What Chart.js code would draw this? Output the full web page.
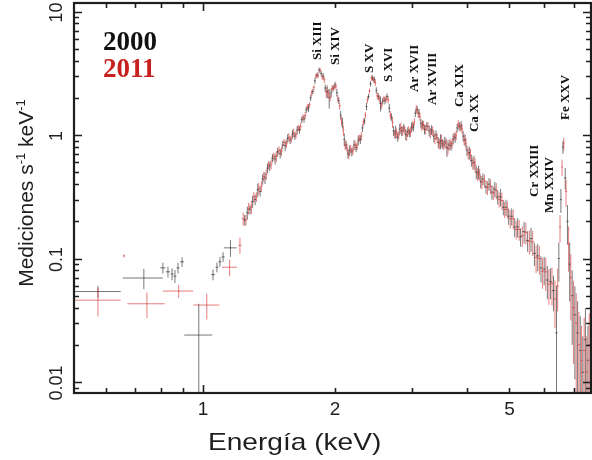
<!DOCTYPE html>
<html>
<head>
<meta charset="utf-8">
<script src="https://cdn.jsdelivr.net/npm/chart.js"></script>
<style>
html,body{margin:0;padding:0;background:#fff;}
#wrap{width:592px;height:460px;position:relative;}
</style>
</head>
<body>
<div id="wrap"><canvas id="c" width="592" height="460"></canvas></div>
<script>
// ---------------- DATA ----------------
// 2000 observation (black): narrow bins
const energy2000 = [
  0.810,0.832,0.850,0.863,0.877,0.896,1.054,1.076,1.093,1.111,
  1.245,1.262,1.280,1.298,1.315,1.333,1.350,1.368,1.385,1.403,
  1.420,1.440,1.460,1.480,1.500,1.520,1.540,1.560,1.580,1.600,
  1.620,1.640,1.660,1.680,1.700,1.720,1.740,1.760,1.780,1.800,
  1.820,1.840,1.860,1.880,1.900,1.920,1.940,1.960,1.980,2.000,
  2.020,2.040,2.060,2.080,2.100,2.120,2.140,2.160,2.185,2.210,
  2.235,2.260,2.285,2.310,2.335,2.360,2.385,2.410,2.435,2.460,
  2.485,2.510,2.540,2.570,2.600,2.630,2.660,2.690,2.720,2.750,
  2.780,2.810,2.840,2.870,2.900,2.930,2.960,2.990,3.020,3.050,
  3.080,3.110,3.140,3.170,3.200,3.240,3.280,3.320,3.360,3.400,
  3.440,3.480,3.520,3.560,3.600,3.640,3.680,3.720,3.760,3.800,
  3.840,3.880,3.920,3.960,4.000,4.050,4.100,4.150,4.200,4.250,
  4.300,4.350,4.420,4.490,4.560,4.630,4.700,4.770,4.840,4.910,
  4.980,5.060,5.140,5.220,5.300,5.400,5.500,5.600,5.700,5.800,
  5.900,6.000,6.100,6.200,6.300,6.400,6.480,6.550,6.620,6.700,
  6.780,6.860,6.950,7.050,7.150,7.250,7.350,7.450,7.550
];
const counts2000 = [
  0.084,0.078,0.075,0.072,0.084,0.094,0.074,0.085,0.094,0.103,
  0.205,0.235,0.25,0.29,0.30,0.36,0.35,0.44,0.45,0.54,
  0.56,0.65,0.64,0.73,0.71,0.83,0.82,0.94,0.91,1.02,
  0.98,1.10,1.10,1.33,1.35,1.60,1.65,2.00,2.25,2.75,
  3.05,3.35,3.15,3.00,2.40,2.25,2.00,2.20,2.40,2.55,
  2.20,1.90,1.45,1.25,0.92,0.83,0.71,0.75,0.73,0.83,
  0.79,0.91,0.92,1.14,1.30,1.70,2.05,2.60,2.90,2.80,
  2.30,2.05,1.80,1.88,1.90,2.05,1.65,1.40,1.08,1.06,
  0.96,1.12,1.08,1.14,1.01,1.06,1.04,1.16,1.16,1.50,
  1.60,1.50,1.24,1.22,1.11,1.18,1.08,1.10,0.98,1.00,
  0.87,0.89,0.85,0.88,0.79,0.83,0.82,0.93,0.95,1.14,
  1.18,1.19,0.98,0.91,0.75,0.72,0.62,0.60,0.50,0.50,
  0.42,0.44,0.38,0.40,0.345,0.365,0.315,0.315,0.26,0.26,
  0.22,0.22,0.18,0.18,0.15,0.165,0.14,0.145,0.11,0.105,
  0.084,0.082,0.067,0.065,0.055,0.025,0.10,0.30,0.80,0.45,
  0.20,0.09,0.05,0.035,0.025,0.018,0.012,0.022,0.015
];
const relErr2000 = [
  0.10,0.10,0.11,0.12,0.10,0.09,0.10,0.09,0.09,0.09,
  0.10,0.12,0.09,0.11,0.10,0.12,0.09,0.10,0.11,0.09,
  0.09,0.08,0.10,0.08,0.09,0.08,0.10,0.08,0.07,0.08,
  0.07,0.08,0.07,0.06,0.07,0.06,0.07,0.06,0.05,0.06,
  0.05,0.05,0.05,0.06,0.07,0.12,0.18,0.08,0.06,0.06,
  0.07,0.06,0.08,0.10,0.12,0.08,0.09,0.10,0.08,0.09,
  0.08,0.09,0.08,0.07,0.06,0.07,0.05,0.05,0.05,0.06,
  0.06,0.07,0.14,0.06,0.07,0.06,0.08,0.07,0.09,0.12,
  0.08,0.10,0.09,0.08,0.10,0.09,0.08,0.09,0.08,0.07,
  0.07,0.08,0.09,0.08,0.09,0.08,0.10,0.09,0.11,0.09,
  0.10,0.14,0.09,0.10,0.16,0.10,0.09,0.10,0.09,0.08,
  0.08,0.09,0.10,0.11,0.10,0.12,0.11,0.13,0.12,0.13,
  0.12,0.11,0.12,0.12,0.13,0.14,0.13,0.16,0.14,0.15,
  0.15,0.16,0.17,0.18,0.17,0.20,0.19,0.22,0.21,0.25,
  0.24,0.26,0.30,0.28,0.32,1.40,0.35,0.22,0.12,0.20,
  0.35,0.50,0.60,0.70,0.80,0.90,0.95,0.80,0.90
];
// 2000 observation: wide low-energy bins
const wideEnergy2000 = [0.576, 0.733, 0.978, 1.155];
const wideHalfWidth2000 = [0.073, 0.077, 0.072, 0.038];
const wideCounts2000 = [0.054, 0.0695, 0.024, 0.122];
const wideErr2000 = [0.006, 0.013, 0.019, 0.019];

// 2011 observation (red): narrow bins
const energy2011 = [
  1.214,
  1.235,1.253,1.271,1.289,1.306,1.324,1.341,1.359,1.376,1.394,
  1.411,1.430,1.450,1.470,1.490,1.510,1.530,1.550,1.570,1.590,
  1.610,1.630,1.650,1.670,1.690,1.710,1.730,1.750,1.770,1.790,
  1.810,1.830,1.850,1.870,1.890,1.910,1.930,1.950,1.970,1.990,
  2.010,2.030,2.050,2.070,2.090,2.110,2.130,2.150,2.172,2.197,
  2.222,2.247,2.272,2.297,2.322,2.347,2.372,2.397,2.422,2.447,
  2.472,2.497,2.525,2.555,2.585,2.615,2.645,2.675,2.705,2.735,
  2.765,2.795,2.825,2.855,2.885,2.915,2.945,2.975,3.005,3.035,
  3.065,3.095,3.125,3.155,3.185,3.220,3.260,3.300,3.340,3.380,
  3.420,3.460,3.500,3.540,3.580,3.620,3.660,3.700,3.740,3.780,
  3.820,3.860,3.900,3.940,3.980,4.025,4.075,4.125,4.175,4.225,
  4.275,4.325,4.385,4.455,4.525,4.595,4.665,4.735,4.805,4.875,
  4.945,5.020,5.100,5.180,5.260,5.350,5.450,5.550,5.650,5.750,
  5.850,5.950,6.050,6.150,6.250,6.350,6.440,6.520,6.590,6.650,
  6.730,6.820,6.900,7.000,7.100,7.200,7.300,7.400,7.500,7.600
];
const counts2011 = [
  0.128,
  0.21,0.205,0.255,0.26,0.315,0.315,0.37,0.385,0.46,0.48,
  0.57,0.58,0.67,0.67,0.75,0.74,0.87,0.85,0.96,0.93,
  1.04,1.01,1.14,1.18,1.39,1.44,1.68,1.76,2.18,2.42,
  3.00,3.05,3.35,2.95,2.80,2.22,2.18,2.02,2.38,2.42,
  2.48,1.98,1.72,1.30,1.09,0.83,0.79,0.70,0.77,0.75,
  0.83,0.82,0.94,0.98,1.27,1.45,1.92,2.27,2.90,2.80,
  2.65,2.08,1.97,1.74,1.96,1.96,1.92,1.45,1.27,1.02,
  1.04,1.00,1.14,1.08,1.10,0.99,1.09,1.06,1.19,1.28,
  1.63,1.50,1.40,1.18,1.20,1.11,1.17,1.04,1.08,0.94,
  0.95,0.85,0.90,0.83,0.86,0.78,0.85,0.85,0.97,1.00,
  1.22,1.16,1.12,0.92,0.85,0.71,0.69,0.59,0.57,0.48,
  0.48,0.415,0.425,0.375,0.385,0.34,0.355,0.30,0.295,0.25,
  0.25,0.21,0.21,0.172,0.172,0.153,0.162,0.138,0.136,0.102,
  0.10,0.079,0.078,0.062,0.063,0.047,0.060,0.18,0.55,0.85,
  0.35,0.13,0.07,0.04,0.03,0.02,0.015,0.018,0.012,0.02
];
const relErr2011 = [
  0.15,
  0.12,0.10,0.11,0.12,0.10,0.09,0.11,0.10,0.09,0.10,
  0.08,0.09,0.08,0.10,0.08,0.09,0.07,0.08,0.08,0.07,
  0.08,0.07,0.06,0.07,0.06,0.07,0.06,0.05,0.06,0.05,
  0.05,0.05,0.04,0.05,0.06,0.10,0.08,0.07,0.06,0.05,
  0.06,0.07,0.07,0.09,0.10,0.09,0.08,0.09,0.08,0.08,
  0.09,0.08,0.07,0.08,0.07,0.06,0.06,0.05,0.05,0.05,
  0.06,0.06,0.07,0.07,0.06,0.07,0.06,0.08,0.10,0.08,
  0.09,0.08,0.10,0.09,0.08,0.10,0.08,0.09,0.08,0.07,
  0.07,0.08,0.08,0.09,0.08,0.09,0.08,0.10,0.09,0.10,
  0.09,0.10,0.12,0.09,0.10,0.11,0.10,0.09,0.08,0.09,
  0.08,0.08,0.09,0.10,0.11,0.11,0.12,0.11,0.13,0.12,
  0.11,0.12,0.12,0.13,0.14,0.13,0.15,0.14,0.16,0.15,
  0.16,0.17,0.18,0.17,0.19,0.19,0.20,0.22,0.23,0.25,
  0.26,0.28,0.30,0.32,0.34,0.42,0.38,0.25,0.15,0.12,
  0.25,0.40,0.55,0.65,0.75,0.85,0.90,0.85,0.95,0.80
];
// 2011 observation: wide low-energy bins
const wideEnergy2011 = [0.576, 0.660, 0.745, 0.880, 1.020, 1.150];
const wideHalfWidth2011 = [0.073, 0.003, 0.073, 0.070, 0.070, 0.045];
const wideCounts2011 = [0.046, 0.105, 0.043, 0.0545, 0.042, 0.085];
const wideErr2011 = [0.012, 0.003, 0.010, 0.0065, 0.010, 0.013];

// Emission line labels (energy, and the count level where the label starts)
const lineNames = ["Si XIII","Si XIV","S XV","S XVI","Ar XVII","Ar XVIII","Ca XIX","Ca XX","Cr XXIII","Mn XXIV","Fe XXV"];
const lineEnergies = [1.829, 2.011, 2.404, 2.657, 3.044, 3.337, 3.856, 4.172, 5.702, 6.185, 6.727];
const lineLabelLevels = [4.05, 3.69, 3.18, 2.69, 2.23, 1.75, 1.685, 1.057, 0.315, 0.2335, 1.323];

// Axes
const xRange = [0.5079, 7.672];
const yRange = [0.008147, 11.72];
const xTickLabels = [1, 2, 5];
const xTickMarks = [0.6, 0.7, 0.8, 0.9, 1, 2, 3, 4, 5, 6, 7];
const xMajorMarks = [1];
const yTickLabels = [0.01, 0.1, 1, 10];
const yTickLabelText = ["0.01", "0.1", "1", "10"];
const yMinorMarks = [0.009, 0.02,0.03,0.04,0.05,0.06,0.07,0.08,0.09, 0.2,0.3,0.4,0.5,0.6,0.7,0.8,0.9, 2,3,4,5,6,7,8,9];
const seriesNames = ["2000", "2011"];

// ---------------- BUILD ----------------
function neighbourHalfWidths(E) {
  return E.map((e, i) => {
    const dl = i > 0 ? e - E[i - 1] : Infinity;
    const dr = i < E.length - 1 ? E[i + 1] - e : Infinity;
    return Math.min(dl, dr) / 2;
  });
}
function bars(E, V, halfW, absErr) {
  const h = [], v = [];
  for (let i = 0; i < E.length; i++) {
    h.push({x: E[i] - halfW[i], y: V[i]}, {x: E[i] + halfW[i], y: V[i]}, {x: E[i], y: null});
    const lo = V[i] - absErr[i];
    v.push({x: E[i], y: lo > 0 ? lo : 1e-4}, {x: E[i], y: V[i] + absErr[i]}, {x: E[i], y: null});
  }
  return {h, v};
}
const b2000 = bars(energy2000, counts2000, neighbourHalfWidths(energy2000), counts2000.map((c, i) => c * relErr2000[i]));
const w2000 = bars(wideEnergy2000, wideCounts2000, wideHalfWidth2000, wideErr2000);
const b2011 = bars(energy2011, counts2011, neighbourHalfWidths(energy2011), counts2011.map((c, i) => c * relErr2011[i]));
const w2011 = bars(wideEnergy2011, wideCounts2011, wideHalfWidth2011, wideErr2011);

const RED = 'rgba(214,45,45,0.62)';
const BLACK = 'rgba(35,35,35,0.62)';
function ds(label, data, color) {
  return {label, data, showLine: true, borderColor: color, borderWidth: 1, pointRadius: 0,
          pointHoverRadius: 0, spanGaps: false, fill: false, clip: 0, tension: 0};
}

const INK = '#1e1e1e';
const overlay = {
  id: 'overlay',
  afterDatasetsDraw(chart) {
    const {ctx, chartArea: a, scales: {x, y}} = chart;
    ctx.save();
    ctx.strokeStyle = INK;
    ctx.fillStyle = INK;
    // ticks (inward) on all four sides
    ctx.lineWidth = 1.6;
    ctx.beginPath();
    xTickMarks.forEach(v => {
      const px = Math.round(x.getPixelForValue(v)) + 0.5;
      const L = xMajorMarks.includes(v) ? 8 : 5;
      ctx.moveTo(px, a.bottom); ctx.lineTo(px, a.bottom - L);
      ctx.moveTo(px, a.top); ctx.lineTo(px, a.top + L);
    });
    yTickLabels.forEach(v => {
      const py = Math.round(y.getPixelForValue(v)) + 0.5;
      ctx.moveTo(a.left, py); ctx.lineTo(a.left + 8, py);
      ctx.moveTo(a.right, py); ctx.lineTo(a.right - 8, py);
    });
    yMinorMarks.forEach(v => {
      const py = Math.round(y.getPixelForValue(v)) + 0.5;
      ctx.moveTo(a.left, py); ctx.lineTo(a.left + 5, py);
      ctx.moveTo(a.right, py); ctx.lineTo(a.right - 5, py);
    });
    ctx.stroke();
    // frame
    ctx.lineWidth = 2.2;
    ctx.strokeRect(a.left, a.top, a.right - a.left, a.bottom - a.top);

    // y tick labels (rotated)
    ctx.font = '18px "Liberation Sans", Arial, sans-serif';
    ctx.textAlign = 'center';
    ctx.textBaseline = 'alphabetic';
    yTickLabels.forEach((v, i) => {
      const py = y.getPixelForValue(v);
      ctx.save();
      ctx.translate(62, py + 1);
      ctx.rotate(-Math.PI / 2);
      ctx.fillText(yTickLabelText[i], 0, 0);
      ctx.restore();
    });

    // y axis title with superscripts
    const big = '21px "Liberation Sans", Arial, sans-serif';
    const small = '13px "Liberation Sans", Arial, sans-serif';
    const parts = [["Mediciones s", big, 0], ["-1", small, -8], [" keV", big, 0], ["-1", small, -8]];
    let total = 0;
    parts.forEach(p => { ctx.font = p[1]; total += ctx.measureText(p[0]).width; });
    ctx.save();
    ctx.translate(33, 193);
    ctx.rotate(-Math.PI / 2);
    ctx.textAlign = 'left';
    let cx = -total / 2;
    parts.forEach(p => { ctx.font = p[1]; ctx.fillText(p[0], cx, p[2]); cx += ctx.measureText(p[0]).width; });
    ctx.restore();

    // x axis title
    ctx.save();
    ctx.font = '24px "Liberation Sans", Arial, sans-serif';
    ctx.textAlign = 'left';
    ctx.translate(208, 450);
    ctx.scale(1.17, 1);
    ctx.fillText('Energía (keV)', 0, 0);
    ctx.restore();

    // emission line labels
    ctx.font = 'bold 13px "Liberation Serif", "Times New Roman", serif';
    ctx.fillStyle = '#111';
    ctx.textAlign = 'left';
    ctx.textBaseline = 'middle';
    lineNames.forEach((t, i) => {
      ctx.save();
      ctx.translate(x.getPixelForValue(lineEnergies[i]), y.getPixelForValue(lineLabelLevels[i]));
      ctx.rotate(-Math.PI / 2);
      ctx.fillText(t, 0, 0);
      ctx.restore();
    });

    // in-plot legend
    ctx.font = 'bold 27px "Liberation Serif", "Times New Roman", serif';
    ctx.textBaseline = 'alphabetic';
    ctx.fillStyle = '#111';
    ctx.fillText(seriesNames[0], 103, 49.5);
    ctx.fillStyle = '#c8201e';
    ctx.fillText(seriesNames[1], 103, 76.5);
    ctx.restore();
  }
};

new Chart(document.getElementById('c'), {
  type: 'scatter',
  data: {
    datasets: [
      ds('2011', b2011.h, RED), ds('2011', b2011.v, RED),
      ds('2011', w2011.h, RED), ds('2011', w2011.v, RED),
      ds('2000', b2000.h, BLACK), ds('2000', b2000.v, BLACK),
      ds('2000', w2000.h, BLACK), ds('2000', w2000.v, BLACK)
    ]
  },
  options: {
    responsive: false,
    animation: false,
    events: [],
    layout: {padding: {top: 3, right: 1, left: 0, bottom: 0}},
    plugins: {legend: {display: false}, tooltip: {enabled: false}, title: {display: false}},
    scales: {
      x: {
        type: 'logarithmic', position: 'bottom',
        min: xRange[0], max: xRange[1],
        grid: {display: false, drawTicks: false},
        border: {display: false},
        afterBuildTicks: s => { s.ticks = xTickLabels.map(v => ({value: v})); },
        afterFit: s => { s.height = 67; },
        ticks: {
          autoSkip: false, maxRotation: 0, minRotation: 0, padding: 5,
          color: INK, font: {family: '"Liberation Sans", Arial, sans-serif', size: 19},
          callback: v => String(v)
        }
      },
      y: {
        type: 'logarithmic', position: 'left',
        min: yRange[0], max: yRange[1],
        grid: {display: false, drawTicks: false},
        border: {display: false},
        ticks: {display: false},
        afterFit: s => { s.width = 74; }
      }
    }
  },
  plugins: [overlay]
});
</script>
</body>
</html>
